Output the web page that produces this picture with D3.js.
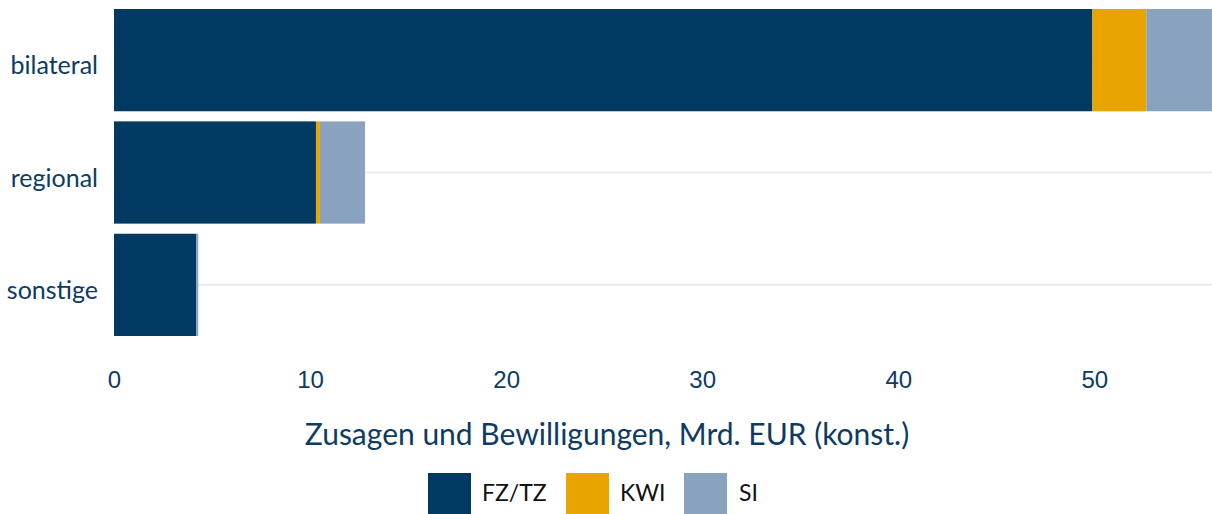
<!DOCTYPE html>
<html>
<head>
<meta charset="utf-8">
<script src="https://cdn.jsdelivr.net/npm/d3@7"></script>
<style>
  body { margin: 0; background: #fff; }
  svg { display: block; }
</style>
</head>
<body>
<svg id="chart" width="1212" height="514"></svg>
<script>
const categories = ['bilateral', 'regional', 'sonstige'];
const seriesKeys = ['FZ/TZ', 'KWI', 'SI'];
const fzTz = [49.9, 10.3, 4.2];
const kwi = [2.75, 0.2, 0];
const si = [3.35, 2.3, 0.1];
const xTicks = [0, 10, 20, 30, 40, 50];
const xTitle = 'Zusagen und Bewilligungen, Mrd. EUR (konst.)';

const colors = { 'FZ/TZ': '#003a63', 'KWI': '#e8a400', 'SI': '#88a2c0' };
const navy = '#0d3b64';

const rows = categories.map((c, i) => ({ cat: c, 'FZ/TZ': fzTz[i], 'KWI': kwi[i], 'SI': si[i] }));
const stacked = d3.stack().keys(seriesKeys)(rows);

const svg = d3.select('#chart');

const x = d3.scaleLinear()
    .domain([0, d3.max(rows, r => r['FZ/TZ'] + r.KWI + r.SI)])
    .range([114, 1212]);

const y = d3.scaleBand()
    .domain(categories)
    .range([9, 336])
    .paddingInner(0.09)
    .paddingOuter(0);

// grid lines
svg.append('g')
    .selectAll('line')
    .data(categories)
    .join('line')
    .attr('x1', x.range()[0])
    .attr('x2', x.range()[1])
    .attr('y1', d => y(d) + y.bandwidth() / 2)
    .attr('y2', d => y(d) + y.bandwidth() / 2)
    .attr('stroke', '#ebebeb')
    .attr('stroke-width', 2);

// bars
svg.append('g')
    .selectAll('g')
    .data(stacked)
    .join('g')
    .attr('fill', d => colors[d.key])
    .selectAll('rect')
    .data(d => d)
    .join('rect')
    .attr('x', d => x(d[0]))
    .attr('y', d => y(d.data.cat))
    .attr('width', d => x(d[1]) - x(d[0]))
    .attr('height', y.bandwidth());

// y labels
svg.append('g')
    .selectAll('text')
    .data(categories)
    .join('text')
    .attr('x', 98)
    .attr('y', d => y(d) + y.bandwidth() / 2 + 14)
    .attr('text-anchor', 'end')
    .attr('font-family', 'Lato, sans-serif')
    .attr('font-size', 25)
    .attr('fill', navy)
    .text(d => d);

// x axis
const xAxis = svg.append('g')
    .attr('transform', 'translate(0,336)')
    .call(d3.axisBottom(x).tickValues(xTicks).tickSize(0).tickPadding(0));
xAxis.select('.domain').remove();
xAxis.selectAll('text')
    .attr('y', 52)
    .attr('dy', 0)
    .attr('font-family', '"Liberation Sans", Arial, sans-serif')
    .attr('font-size', 24)
    .attr('fill', navy);

// axis title
svg.append('text')
    .attr('x', 607)
    .attr('y', 445)
    .attr('text-anchor', 'middle')
    .attr('font-family', 'Lato, sans-serif')
    .attr('font-size', 30)
    .attr('fill', navy)
    .text(xTitle);

// legend
const legendX = [428, 566, 684];
const legend = svg.append('g')
    .selectAll('g')
    .data(seriesKeys)
    .join('g')
    .attr('transform', (d, i) => `translate(${legendX[i]},473)`);

legend.append('rect')
    .attr('width', 43)
    .attr('height', 43)
    .attr('fill', d => colors[d]);

legend.append('text')
    .attr('x', (d, i) => [54, 54, 55][i])
    .attr('y', 28)
    .attr('font-family', 'Lato, sans-serif')
    .attr('font-size', 23)
    .attr('fill', '#111')
    .text(d => d);
</script>
</body>
</html>
